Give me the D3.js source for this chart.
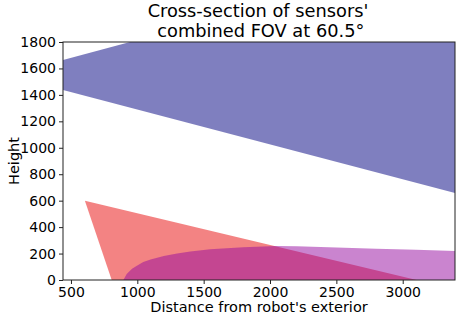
<!DOCTYPE html>
<html>
<head>
<meta charset="utf-8">
<script src="https://cdn.jsdelivr.net/npm/d3@7"></script>
<style>
  html, body { margin: 0; padding: 0; background: #fff; }
  text { font-family: "DejaVu Sans", sans-serif; fill: #000; }
</style>
</head>
<body>
<svg id="chart" width="464" height="319"></svg>
<script>
// ---- data ----
const titleLines = ["Cross-section of sensors'", " combined FOV at 60.5°"];
const xLabel = "Distance from robot's exterior";
const yLabel = "Height";
const xDomain = [440, 3394];
const yDomain = [0, 1800];
const xTicks = [500, 1000, 1500, 2000, 2500, 3000];
const yTicks = [0, 200, 400, 600, 800, 1000, 1200, 1400, 1600, 1800];

// sensor 1 (upper, blue) cross-section polygon
const blueRegion = [[440, 1437], [440, 1664], [945, 1800], [3394, 1800], [3394, 658]];
// sensor 2 (red) triangle
const redRegion = [[605, 600], [807, 0], [3105, 0]];
// sensor 3 (purple) region: curved top edge then ground
const purpleRegion = [
  [895, 0], [920, 45], [960, 85], [1000, 110], [1045, 137], [1100, 155],
  [1200, 182], [1300, 201], [1400, 216], [1550, 232], [1800, 247],
  [2050, 257], [2200, 256], [2500, 246], [2800, 236], [3100, 228],
  [3394, 220], [3394, 0]
];

// ---- layout ----
const svg = d3.select("#chart");
const m = { left: 63, right: 9, top: 42, bottom: 39 };
const W = 464, H = 319;
const x = d3.scaleLinear().domain(xDomain).range([m.left, W - m.right]);
const y = d3.scaleLinear().domain(yDomain).range([H - m.bottom, m.top]);

svg.append("clipPath").attr("id", "plotclip")
  .append("rect")
  .attr("x", m.left).attr("y", m.top)
  .attr("width", W - m.left - m.right).attr("height", H - m.top - m.bottom);

const g = svg.append("g").attr("clip-path", "url(#plotclip)");
const line = d3.line().x(d => x(d[0])).y(d => y(d[1]));
const curve = d3.line().x(d => x(d[0])).y(d => y(d[1])).curve(d3.curveMonotoneX);

g.append("path").datum(blueRegion).attr("d", d => line(d) + "Z")
  .attr("fill", "#000080").attr("fill-opacity", 0.5);
g.append("path").datum(redRegion).attr("d", d => line(d) + "Z")
  .attr("fill", "#e80808").attr("fill-opacity", 0.5);
g.append("path").datum(purpleRegion).attr("d", d => line(d) + "Z")
  .attr("fill", "#960aa0").attr("fill-opacity", 0.5);

// axes
const xAxis = svg.append("g").attr("transform", `translate(0,${H - m.bottom})`)
  .call(d3.axisBottom(x).tickValues(xTicks).tickSize(4).tickPadding(3).tickFormat(d3.format("d")));
const yAxis = svg.append("g").attr("transform", `translate(${m.left},0)`)
  .call(d3.axisLeft(y).tickValues(yTicks).tickSize(4).tickPadding(3).tickFormat(d3.format("d")));
[xAxis, yAxis].forEach(a => {
  a.selectAll("text").style("font-size", "14px").style("font-family", "DejaVu Sans");
  a.select(".domain").remove();
  a.selectAll(".tick line").attr("stroke", "#222").attr("stroke-width", 1);
});

// frame
svg.append("rect")
  .attr("x", m.left).attr("y", m.top)
  .attr("width", W - m.left - m.right).attr("height", H - m.top - m.bottom)
  .attr("fill", "none").attr("stroke", "#222").attr("stroke-width", 1);

// labels
svg.append("text").attr("x", (m.left + W - m.right) / 2).attr("y", 312)
  .attr("text-anchor", "middle").style("font-size", "14.5px").text(xLabel);
svg.append("text").attr("transform", `translate(19,${(m.top + H - m.bottom) / 2}) rotate(-90)`)
  .attr("text-anchor", "middle").style("font-size", "14.5px").text(yLabel);

// title
titleLines.forEach((t, i) => {
  svg.append("text").attr("x", 258).attr("y", 17 + i * 20)
    .attr("text-anchor", "middle").attr("xml:space", "preserve")
    .style("font-size", "17.8px")
    .style("white-space", "pre").text(t);
});
</script>
</body>
</html>
